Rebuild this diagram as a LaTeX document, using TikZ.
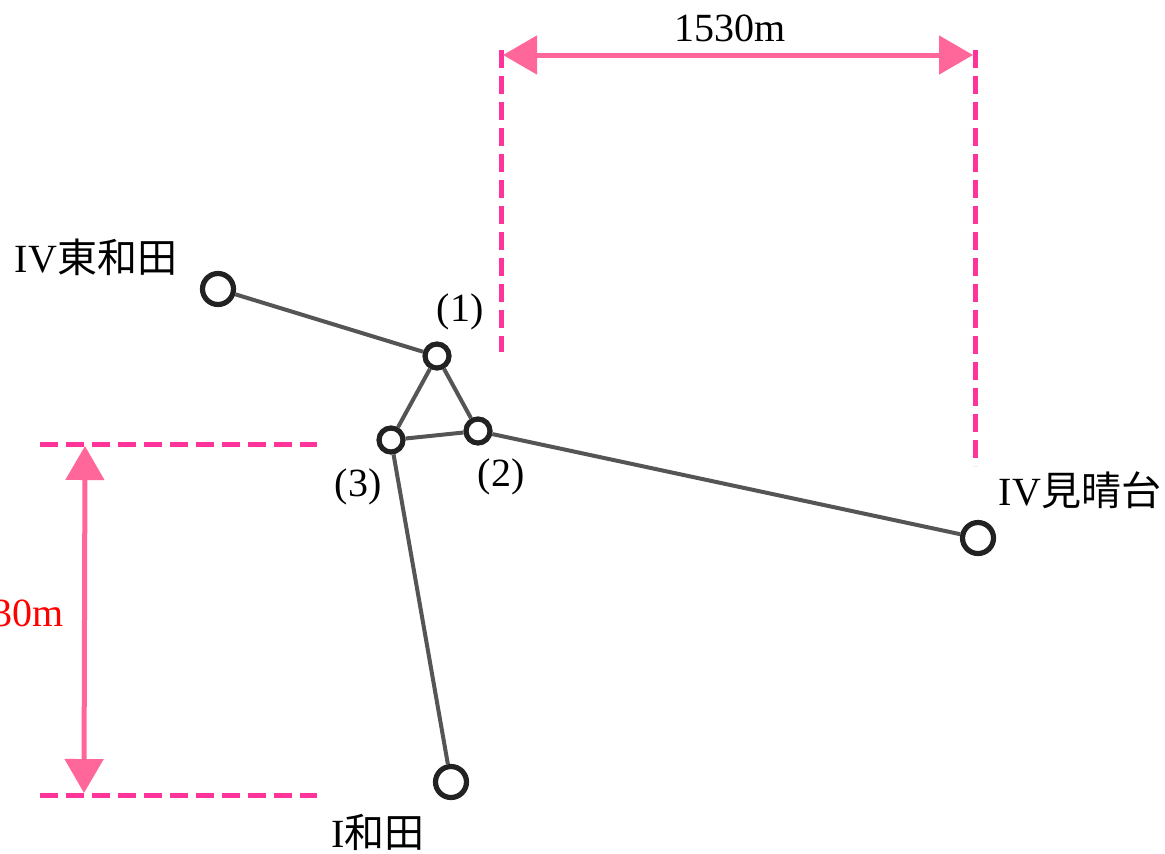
\documentclass[tikz,border=0pt]{standalone}
\usepackage{fontspec}
\setmainfont{Liberation Serif}
\newfontfamily\jp{Noto Sans CJK JP}
\usetikzlibrary{positioning,arrows.meta}
\definecolor{guidecol}{RGB}{255,51,153}
\definecolor{arrcol}  {RGB}{255,102,153}
\definecolor{linkcol} {RGB}{85,85,85}
\definecolor{stncol}  {RGB}{34,34,34}
\begin{document}
\begin{tikzpicture}[x=0.5pt,y=-0.5pt,
  stn/.style={circle,draw=stncol,fill=white,line width=2.6pt,
              minimum size=#1,inner sep=0pt},
  stn/.default=15.5pt,
  lnk/.style={linkcol,line width=2pt},
  guide/.style={guidecol,line width=2.5pt,dash pattern=on 9pt off 4pt},
  dim/.style={arrcol,line width=2.5pt,
              {Triangle[length=17pt,width=19pt]}-{Triangle[length=17pt,width=19pt]}},
  lbl/.style={font=\fontsize{20}{24}\selectfont,inner sep=0pt}
]
\useasboundingbox (0,0) rectangle (1165,853);
% stations
\node[stn] (higa) at (218,289) {};
\node[stn=12pt] (n1) at (437,356) {};
\node[stn=12pt] (n2) at (478,431) {};
\node[stn=12pt] (n3) at (391,440) {};
\node[stn] (mihara) at (978,538) {};
\node[stn] (wada) at (451,782) {};
\draw[lnk] (higa)--(n1); \draw[lnk] (n1)--(n2); \draw[lnk] (n1)--(n3);
\draw[lnk] (n3)--(n2); \draw[lnk] (n2)--(mihara); \draw[lnk] (n3)--(wada);
\node[lbl] at (96,257) {IV{\jp 東和田}};
\node[lbl] at (460,312) {(1)};
\node[lbl] at (501,477) {(2)};
\node[lbl] at (358,487) {(3)};
\node[lbl] at (1080,490) {IV{\jp 見晴台}};
\node[lbl] at (378,832) {I{\jp 和田}};
% dimension guides
\coordinate (g1t) at (501,50); \coordinate (g1b) at (501,352);
\coordinate (g2t) at (975,50); \coordinate (g2b) at (975,466);
\coordinate (h1l) at (40,444); \coordinate (h1r) at (317,444);
\coordinate (h2l) at (40,795); \coordinate (h2r) at (317,795);
\draw[guide] (g1t)--(g1b); \draw[guide] (g2t)--(g2b);
\draw[guide] (h1l)--(h1r); \draw[guide] (h2l)--(h2r);
\coordinate (a1) at (503,55); \coordinate (a2) at (973,55);
\coordinate (b1) at (85,446); \coordinate (b2) at (84,793);
\draw[dim] (a1)--(a2);
\draw[dim] (b1)--(b2);
\node[lbl] at (730,28) {1530m};
\node[lbl,red,anchor=east] at (64,613) {30m};
\end{tikzpicture}
\end{document}
